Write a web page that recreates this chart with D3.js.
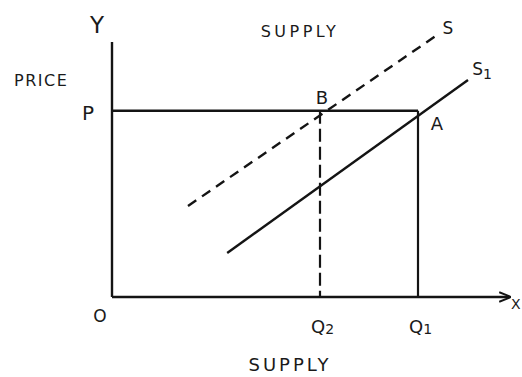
<!DOCTYPE html>
<html>
<head>
<meta charset="utf-8">
<script src="https://cdn.jsdelivr.net/npm/d3@7"></script>
<style>
  body { margin: 0; background: #fff; }
  text { font-family: "DejaVu Sans", sans-serif; fill: #1a1a1a; }
</style>
</head>
<body>
<svg id="chart" width="522" height="377"></svg>
<script>
// data (quantity on x, price on y, arbitrary units)
const quantities = [5.2, 7.65];            // Q2, Q1
const quantityNames = ["Q", "Q"];
const quantitySubs = ["2", "1"];
const priceLevel = 7.45;                   // P
const pointNames = ["B", "A"];             // points at (Q2,P) and (Q1,P)
const supplyS = [[1.9, 3.64], [8.2, 10.56]];   // old supply, dashed
const supplyS1 = [[2.88, 1.76], [8.9, 8.68]];  // new supply, solid
const xAxisEnd = 9.95;
const yAxisEnd = 10.2;

let width = 522;
let height = 377;

let svg = d3.select("#chart");

// scales
let x = d3.scaleLinear().domain([0, 10]).range([112, 512]);
let y = d3.scaleLinear().domain([0, 10]).range([297, 47]);

let ink = "#141414";

// arrow head for the X axis
svg.append("defs")
  .append("marker")
  .attr("id", "arrow")
  .attr("viewBox", "0 0 10 10")
  .attr("refX", 9)
  .attr("refY", 5)
  .attr("markerWidth", 5)
  .attr("markerHeight", 5)
  .attr("orient", "auto")
  .append("path")
  .attr("d", "M0,1 L10,5 L0,9")
  .attr("fill", "none")
  .attr("stroke", ink)
  .attr("stroke-width", 1.6);

// axes
svg.append("line")
  .attr("x1", x(0)).attr("y1", y(0))
  .attr("x2", x(0)).attr("y2", y(yAxisEnd))
  .attr("stroke", ink).attr("stroke-width", 2.4);

svg.append("line")
  .attr("x1", x(0)).attr("y1", y(0))
  .attr("x2", x(xAxisEnd)).attr("y2", y(0))
  .attr("stroke", ink).attr("stroke-width", 2.4)
  .attr("marker-end", "url(#arrow)");

// price line P -> A
svg.append("line")
  .attr("x1", x(0)).attr("y1", y(priceLevel))
  .attr("x2", x(quantities[1])).attr("y2", y(priceLevel))
  .attr("stroke", ink).attr("stroke-width", 2.4);

// verticals from B (dashed) and A (solid)
svg.selectAll("line.drop")
  .data(quantities)
  .enter()
  .append("line")
  .attr("class", "drop")
  .attr("x1", function(d) { return x(d); })
  .attr("y1", y(priceLevel))
  .attr("x2", function(d) { return x(d); })
  .attr("y2", y(0))
  .attr("stroke", ink)
  .attr("stroke-width", 2.2)
  .attr("stroke-dasharray", function(d, i) { return i === 0 ? "13,5" : null; });

// supply curves
let line = d3.line()
  .x(function(d) { return x(d[0]); })
  .y(function(d) { return y(d[1]); });

svg.append("path")
  .datum(supplyS)
  .attr("d", line)
  .attr("fill", "none")
  .attr("stroke", ink)
  .attr("stroke-width", 2.4)
  .attr("stroke-dasharray", "10,7");

svg.append("path")
  .datum(supplyS1)
  .attr("d", line)
  .attr("fill", "none")
  .attr("stroke", ink)
  .attr("stroke-width", 2.4);

// labels
function label(txt, px, py, size, anchor, spacing) {
  return svg.append("text")
    .attr("x", px)
    .attr("y", py)
    .attr("font-size", size)
    .attr("text-anchor", anchor || "middle")
    .attr("letter-spacing", spacing || 0)
    .text(txt);
}

label("Y", x(0) - 15, y(yAxisEnd) - 9, 23);
label("PRICE", 14, 86, 16, "start", 1.5);
label("P", x(0) - 24, y(priceLevel) + 9, 20);
label("O", x(0) - 12, y(0) + 25, 17);
label("X", 511, y(0) + 12, 14, "start");
label("SUPPLY", 300, 37, 16, "middle", 3.5);
label("SUPPLY", 290, 371, 18, "middle", 3);

// S and S1 at the ends of the curves
let sEnd = supplyS[supplyS.length - 1];
let s1End = supplyS1[supplyS1.length - 1];
label("S", x(sEnd[0]) + 8, y(sEnd[1]) + 1, 17);
let s1 = label("S", x(s1End[0]) + 14, y(s1End[1]) - 5, 17);
s1.append("tspan").attr("font-size", 14).attr("dy", 4).text("1");

// points B and A
label(pointNames[0], x(quantities[0]) + 2, y(priceLevel) - 7, 18);
label(pointNames[1], x(quantities[1]) + 19, y(priceLevel) + 19, 18);

// Q2, Q1 under the axis
svg.selectAll("text.q")
  .data(quantities)
  .enter()
  .append("text")
  .attr("class", "q")
  .attr("x", function(d) { return x(d) - 9; })
  .attr("y", y(0) + 36)
  .attr("font-size", 18)
  .attr("text-anchor", "start")
  .text(function(d, i) { return quantityNames[i]; })
  .append("tspan")
  .attr("font-size", 14)
  .attr("dy", 1)
  .text(function(d, i) { return quantitySubs[i]; });
</script>
</body>
</html>
